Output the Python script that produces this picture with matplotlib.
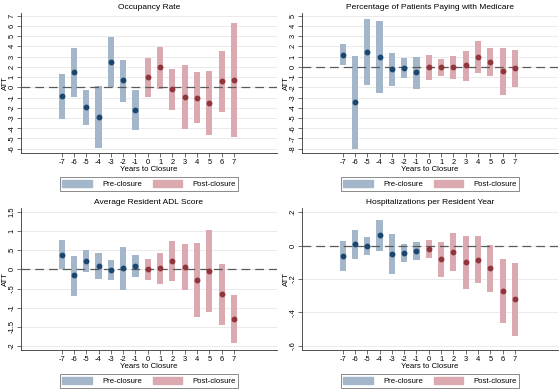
import numpy as np
import matplotlib
matplotlib.use("Agg")
import matplotlib.pyplot as plt
from matplotlib.patches import Patch

plt.rcParams['font.family'] = ['Liberation Sans', 'DejaVu Sans']

# Event time and estimates
years = np.arange(-7, 8)

occ_att = [-0.85, 1.53, -1.92, -2.9, 2.51, 0.68, -2.18, 0.98, 1.95, -0.16, -0.94, -1.0, -1.53, 0.59, 0.68]
occ_lo = [-3.06, -0.94, -3.65, -5.93, 0.03, -1.43, -4.14, -0.98, -0.13, -2.18, -4.07, -3.49, -4.63, -2.41, -4.85]
occ_hi = [1.34, 3.88, -0.23, 0.1, 4.89, 2.7, -0.23, 2.87, 3.97, 1.82, 2.18, 1.5, 1.56, 3.55, 6.29]

med_att = [1.17, -3.48, 1.46, 0.98, -0.26, -0.1, -0.55, 0.0, 0.0, 0.0, 0.13, 0.94, 0.52, -0.42, -0.16]
med_lo = [0.16, -8.03, -1.82, -2.57, -1.92, -1.14, -2.15, -1.24, -0.85, -1.2, -1.37, -0.65, -0.88, -2.76, -1.98]
med_hi = [2.21, 1.07, 4.71, 4.51, 1.36, 0.87, 0.97, 1.17, 0.78, 1.1, 1.56, 2.53, 1.82, 1.82, 1.63]

adl_att = [0.37, -0.15, 0.22, 0.09, -0.01, 0.03, 0.09, 0.0, 0.03, 0.22, 0.06, -0.27, -0.05, -0.65, -1.3]
adl_lo = [0.0, -0.69, -0.08, -0.26, -0.28, -0.54, -0.19, -0.28, -0.37, -0.31, -0.54, -1.24, -1.12, -1.46, -1.91]
adl_hi = [0.76, 0.36, 0.5, 0.43, 0.25, 0.58, 0.38, 0.27, 0.42, 0.74, 0.67, 0.68, 1.03, 0.15, -0.66]

hosp_att = [-0.062, 0.008, -0.002, 0.062, -0.05, -0.046, -0.03, -0.022, -0.082, -0.04, -0.1, -0.084, -0.136, -0.272, -0.32]
hosp_lo = [-0.154, -0.082, -0.056, -0.032, -0.172, -0.1, -0.086, -0.076, -0.186, -0.154, -0.262, -0.226, -0.278, -0.464, -0.54]
hosp_hi = [0.028, 0.096, 0.05, 0.152, 0.07, 0.008, 0.022, 0.032, 0.022, 0.074, 0.06, 0.056, 0.002, -0.082, -0.102]

titles = ["Occupancy Rate", "Percentage of Patients Paying with Medicare",
          "Average Resident ADL Score", "Hospitalizations per Resident Year"]

pre_bar, post_bar = "#a4b7ca", "#dbaab0"
pre_dot, post_dot = "#1a476f", "#90353b"

W, H = 560, 391
fig = plt.figure(figsize=(W / 100, H / 100), dpi=100)


def px_axes(left, top, right, bottom):
    return fig.add_axes([left / W, 1 - bottom / H, (right - left) / W, (bottom - top) / H])


panels = [
    (occ_att, occ_lo, occ_hi, (21, 13, 277, 153), (-6.42, 7.26), np.arange(-6, 8, 1),
     [str(v) for v in range(-6, 8)]),
    (med_att, med_lo, med_hi, (302, 13, 558, 153), (-8.42, 5.26), np.arange(-8, 6, 1),
     [str(v) for v in range(-8, 6)]),
    (adl_att, adl_lo, adl_hi, (21, 208, 277, 350), (-2.1, 1.6), np.arange(-2, 1.51, 0.5),
     ["-2", "-1.5", "-1", "-.5", "0", ".5", "1", "1.5"]),
    (hosp_att, hosp_lo, hosp_hi, (302, 208, 558, 350), (-0.626, 0.226), np.arange(-0.6, 0.21, 0.2),
     ["-.6", "-.4", "-.2", "0", ".2"]),
]

for k, (att, lo, hi, box, ylim, yt, ytl) in enumerate(panels):
    ax = px_axes(*box)
    att, lo, hi = np.array(att), np.array(lo), np.array(hi)
    pre = years < 0
    post = ~pre
    for yy in yt:
        ax.axhline(yy, color="#e2e2e2", lw=0.5, zorder=0)
    ax.bar(years[pre], hi[pre] - lo[pre], bottom=lo[pre], width=0.5, color=pre_bar, zorder=2)
    ax.bar(years[post], hi[post] - lo[post], bottom=lo[post], width=0.5, color=post_bar, zorder=2)
    ax.axhline(0, color="#5a5a5a", lw=0.9, dashes=(7, 4), zorder=3)
    ax.plot(years[pre], att[pre], "o", color=pre_dot, ms=3.2, zorder=4)
    ax.plot(years[post], att[post], "o", color=post_dot, ms=3.2, zorder=4)

    ax.set_xlim(-10.3, 10.5)
    ax.set_ylim(*ylim)
    ax.set_xticks(years)
    ax.set_xticklabels([str(v) for v in years])
    ax.set_yticks(yt)
    ax.set_yticklabels(ytl)
    ax.tick_params(axis="both", labelsize=5.4, length=2.8, width=0.5, color="#333333", pad=1.2)
    ax.tick_params(axis="y", labelrotation=90)
    for lab in ax.get_yticklabels():
        lab.set_va("center")
    for s in ["top", "right"]:
        ax.spines[s].set_visible(False)
    for s in ["left", "bottom"]:
        ax.spines[s].set_linewidth(0.6)
        ax.spines[s].set_color("#333333")
    ax.set_title(titles[k], fontsize=6, pad=3)
    ax.set_xlabel("Years to Closure", fontsize=5.6, labelpad=0)
    ax.set_ylabel("ATT", fontsize=5.6, va="center")
    ax.yaxis.set_label_coords(-0.06, 0.5)

    # legend box under each panel
    lx0 = box[0] + 39
    ly0 = box[3] + 24
    handles = [Patch(color=pre_bar), Patch(color=post_bar)]
    leg = fig.legend(handles, ["Pre-closure", "Post-closure"], ncol=2, fontsize=5.6,
                     loc="center", mode="expand",
                     bbox_to_anchor=(lx0 / W, 1 - (ly0 + 14) / H, 178 / W, 14 / H),
                     frameon=True, fancybox=False, edgecolor="#555555",
                     handlelength=3.8, handleheight=1.1, handletextpad=1.3,
                     borderpad=0.3, borderaxespad=0)
    leg.get_frame().set_linewidth(0.6)

fig.savefig("out.png", dpi=100)
